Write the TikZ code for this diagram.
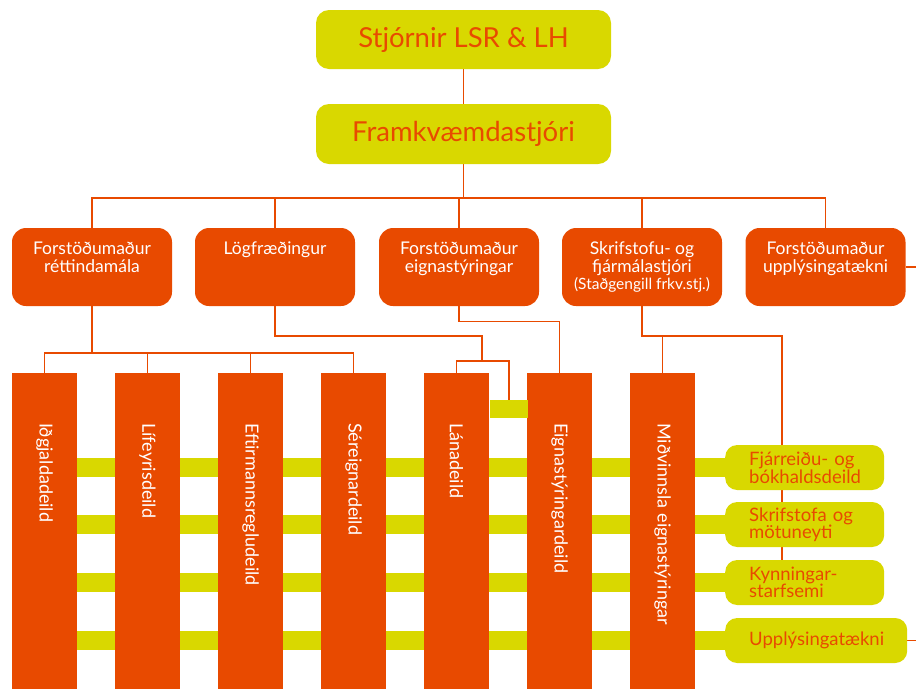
\documentclass[tikz,border=0pt]{standalone}
\usepackage{fontspec}
\setmainfont{Lato}
\usetikzlibrary{positioning,calc,backgrounds}

\definecolor{lsrorange}{RGB}{232,74,0}
\definecolor{lsryellow}{RGB}{217,216,0}

\begin{document}
\begin{tikzpicture}[
		x=1pt, y=-1pt,
		every node/.style={
			inner sep=0pt,
			align=center
		},
		topbox/.style={
			fill=lsryellow, rounded corners=13pt,
			minimum width=295pt, minimum height=59pt,
			text=lsrorange, font=\fontsize{27.5}{30}\selectfont
		},
		midbox/.style={
			fill=lsrorange, rounded corners=14pt,
			minimum width=160pt, minimum height=78pt
		},
		midtext/.style={
			anchor=north, text=white,
			font=\fontsize{17.5}{18}\selectfont
		},
		deildbar/.style={
			fill=lsrorange, anchor=north,
			minimum width=65pt, minimum height=316pt
		},
		deildtext/.style={
			rotate=-90, anchor=west, text=white,
			font=\fontsize{18}{20}\selectfont
		},
		sidebox/.style={
			fill=lsryellow, rounded corners=12pt, anchor=west,
			minimum height=45pt, inner xsep=24pt, align=left,
			text=lsrorange, font=\fontsize{18.5}{17}\selectfont
		},
		band/.style={
			draw=lsryellow, line width=19pt
		},
		conn/.style={
			draw=lsrorange, line width=1.4pt
		}
		]
		
		\useasboundingbox (0,0) rectangle (916,689);
		
		%--------------------------------------------------
		% Top
		%--------------------------------------------------
		
		\node[topbox] (stj) at (463.5,39.5) {Stjórnir LSR \& LH};
		\node[topbox,minimum height=60pt] (fkv) at (463.5,134) {Framkvæmdastjóri};
		
		%--------------------------------------------------
		% Managers
		%--------------------------------------------------
		
		\node[midbox] (m1) at (92,267) {};
		\node[midbox] (m2) at (275,267) {};
		\node[midbox] (m3) at (459,267) {};
		\node[midbox] (m4) at (642,267) {};
		\node[midbox] (m5) at (825.5,267) {};
		
		\node[midtext] (t1) at ($(m1.north)+(0,14)$) {Forstöðumaður\\réttindamála};
		\node[midtext] (t2) at ($(m2.north)+(0,14)$) {Lögfræðingur};
		\node[midtext] (t3) at ($(m3.north)+(0,14)$) {Forstöðumaður\\eignastýringar};
		\node[midtext] (t4) at ($(m4.north)+(0,14)$) {Skrifstofu- og\\fjármálastjóri\\[-1pt]{\fontsize{15.5}{16}\selectfont(Staðgengill frkv.stj.)}};
		\node[midtext] (t5) at ($(m5.north)+(0,14)$) {Forstöðumaður\\upplýsingatækni};
		
		%--------------------------------------------------
		% Departments
		%--------------------------------------------------
		
		\foreach \i/\name in {1/Iðgjaldadeild,2/Lífeyrisdeild,3/Eftirmannsregludeild,
			4/Séreignardeild,5/Lánadeild,6/Eignastýringardeild,7/Miðvinnsla eignastýringar}
		{
			\node[deildbar] (d\i) at ({44.5+103*(\i-1)},373) {};
			\node[deildtext] (dt\i) at ($(d\i.north)+(0,50)$) {\name};
		}
		
		\node[sidebox,text width=111pt] (r1) at (725,467.5) {Fjárreiðu- og\\bókhaldsdeild};
		\node[sidebox,text width=111pt] (r2) at (725,524.5) {Skrifstofa og\\mötuneyti};
		\node[sidebox,text width=111pt] (r3) at (725,582.5) {Kynningar-\\starfsemi};
		\node[sidebox,text width=134pt] (r4) at (725,640.5) {Upplýsingatækni};
		
		\node[fill=lsryellow,minimum width=38pt,minimum height=18pt] (lnk) at (509,409) {};
		
		%--------------------------------------------------
		% Connectors
		%--------------------------------------------------
		
		\coordinate (bus) at (463.5,198);
		\coordinate (j1) at (92,353);
		\coordinate (j2) at (482,361);
		\coordinate (j4) at (782,336);
		\coordinate (out1) at (916,267);
		\coordinate (out2) at (916,640.5);
		
		\begin{scope}[on background layer]
			\foreach \r in {r1,r2,r3,r4}
			{
				\draw[band] (d1.east |- \r.west) -- (\r.west);
			}
			
			\draw[conn] (stj.south) -- (fkv.north);
			\draw[conn] (fkv.south) -- (bus);
			\foreach \m in {m1,m2,m3,m4,m5}
			{
				\draw[conn] (\m.north) |- (bus);
			}
			
			\draw[conn] (m1.south) -- (j1);
			\foreach \d in {d1,d2,d3,d4}
			{
				\draw[conn] (\d.north) |- (j1);
			}
			
			\draw[conn] (m2.south) |- (482,336) -- (j2);
			\draw[conn] (d5.north) |- (j2);
			\draw[conn] (lnk.north) |- (j2);
			
			\draw[conn] (m3.south) -- ++(0,15) -| (d6.north);
			
			\draw[conn] (m4.south) |- (j4) -- (j4 |- r3.north);
			\draw[conn] (d7.north) -- (d7.north |- j4);
			
			\draw[conn] (m5.east) -- (out1);
			\draw[conn] (r4.east) -- (out2);
		\end{scope}
		
	\end{tikzpicture}
\end{document}
